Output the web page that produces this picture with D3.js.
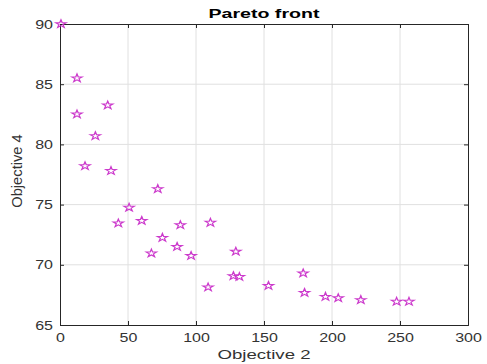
<!DOCTYPE html>
<html>
<head>
<meta charset="utf-8">
<script src="https://cdn.jsdelivr.net/npm/d3@7"></script>
<style>
  html, body { margin: 0; padding: 0; background: #fff; }
  svg { display: block; }
</style>
</head>
<body>
<svg id="chart" width="487" height="364"></svg>
<script>
// Pareto front solutions: Objective 2 vs Objective 4
const objective2 = [0.7, 12.5, 12.5, 35.1, 26, 18.4, 37.5, 71.9, 50.8, 42.9,
  60.1, 88.5, 110.6, 75.3, 86.1, 67.2, 96.4, 129.3, 127.5, 131.9,
  108.9, 153.3, 178.8, 179.8, 195.2, 204.6, 221.2, 247.5, 256.6];
const objective4 = [90, 85.5, 82.5, 83.25, 80.7, 78.2, 77.8, 76.3, 74.75, 73.45,
  73.66, 73.3, 73.5, 72.25, 71.5, 70.95, 70.75, 71.1, 69.07, 69.0,
  68.13, 68.26, 69.3, 67.68, 67.35, 67.24, 67.08, 66.94, 66.94];
const xTicks = [0, 50, 100, 150, 200, 250, 300];
const yTicks = [65, 70, 75, 80, 85, 90];

const svg = d3.select("#chart");
const plotL = 60, plotR = 468, plotT = 24, plotB = 325;

const x = d3.scaleLinear().domain([0, 300]).range([plotL, plotR]);
const y = d3.scaleLinear().domain([65, 90]).range([plotB, plotT]);

const font = "'Liberation Sans', Arial, Helvetica, sans-serif";
const axisColor = "#262626";

// widen a text element along its baseline, keeping its anchor
function widen(sel, k) {
  sel.each(function () {
    const w = this.getComputedTextLength();
    d3.select(this).attr("textLength", w * k).attr("lengthAdjust", "spacingAndGlyphs");
  });
}

// grid
const grid = svg.append("g");
grid.selectAll("line.gx").data(xTicks.slice(1, -1)).join("line")
  .attr("class", "gx")
  .attr("x1", d => x(d)).attr("x2", d => x(d))
  .attr("y1", plotT).attr("y2", plotB)
  .attr("stroke", "#e0e0e0").attr("stroke-width", 1);
grid.selectAll("line.gy").data(yTicks.slice(1, -1)).join("line")
  .attr("class", "gy")
  .attr("y1", d => y(d)).attr("y2", d => y(d))
  .attr("x1", plotL).attr("x2", plotR)
  .attr("stroke", "#e0e0e0").attr("stroke-width", 1);

// axes with inward ticks
const xAxis = d3.axisBottom(x).tickValues(xTicks).tickSize(-4).tickPadding(8);
const yAxis = d3.axisLeft(y).tickValues(yTicks).tickSize(-4).tickPadding(7);
const xTop = d3.axisTop(x).tickValues(xTicks).tickSize(-4).tickFormat("");
const yRight = d3.axisRight(y).tickValues(yTicks).tickSize(-4).tickFormat("");

function style(g) {
  g.select(".domain").attr("stroke", axisColor).attr("stroke-width", 1);
  g.selectAll(".tick line").attr("stroke", axisColor);
  g.selectAll(".tick text").attr("fill", "#333")
    .style("font-family", font).style("font-size", "12.5px")
    .call(widen, 1.28);
}
svg.append("g").attr("transform", `translate(0,${plotB})`).call(xAxis).call(style);
svg.append("g").attr("transform", `translate(${plotL},0)`).call(yAxis).call(style);
svg.append("g").attr("transform", `translate(0,${plotT})`).call(xTop).call(style);
svg.append("g").attr("transform", `translate(${plotR},0)`).call(yRight).call(style);

// pentagram markers
const star = d3.symbol().type(d3.symbolStar).size(20);
svg.append("g").selectAll("path")
  .data(objective2.map((d, i) => [d, objective4[i]]))
  .join("path")
  .attr("d", star)
  .attr("transform", d => `translate(${x(d[0])},${y(d[1])}) scale(1.3,1)`)
  .attr("fill", "none")
  .attr("stroke", "#cc3acc")
  .attr("stroke-width", 1);

// labels
svg.append("text")
  .attr("x", (plotL + plotR) / 2).attr("y", 18)
  .attr("text-anchor", "middle")
  .style("font-family", font).style("font-size", "13.5px").style("font-weight", "bold")
  .attr("fill", "#000")
  .text("Pareto front")
  .call(widen, 1.45);
svg.append("text")
  .attr("x", (plotL + plotR) / 2).attr("y", 359)
  .attr("text-anchor", "middle")
  .style("font-family", font).style("font-size", "13.5px")
  .attr("fill", "#333")
  .text("Objective 2")
  .call(widen, 1.38);
svg.append("text")
  .attr("transform", `translate(22,171) rotate(-90)`)
  .attr("text-anchor", "middle")
  .style("font-family", font).style("font-size", "14px")
  .attr("fill", "#333")
  .text("Objective 4")
  .call(widen, 1.05);
</script>
</body>
</html>
